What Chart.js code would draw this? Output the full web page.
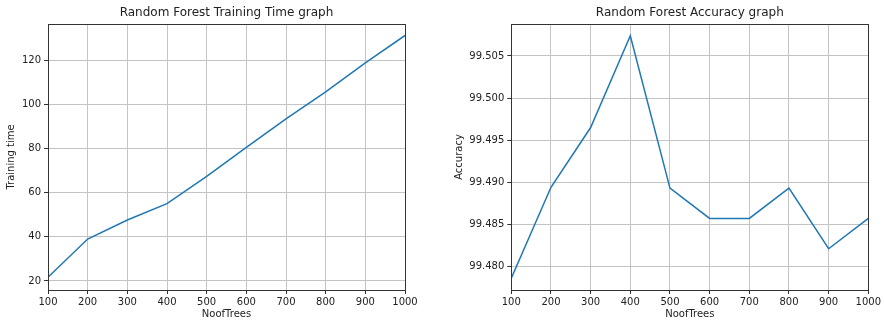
<!DOCTYPE html>
<html>
<head>
<meta charset="utf-8">
<script src="https://cdn.jsdelivr.net/npm/chart.js@4/dist/chart.umd.min.js"></script>
<style>
  body { margin: 0; background: #fff; }
  .box { position: absolute; top: 0; }
  canvas { display: block; }
</style>
</head>
<body>
<div class="box" style="left:0"><canvas id="timeChart" width="442" height="324"></canvas></div>
<div class="box" style="left:442px"><canvas id="accChart" width="442" height="324"></canvas></div>
<script>
// number of trees used on both charts
const noofTrees = [100, 200, 300, 400, 500, 600, 700, 800, 900, 1000];
// training time
const trainingTime = [21.7, 39.0, 47.6, 55.0, 67.4, 80.5, 93.4, 105.7, 118.8, 131.2];
// accuracy
const accuracy = [99.4786, 99.4894, 99.4965, 99.5074, 99.4893, 99.4857, 99.4857, 99.4893, 99.4821, 99.4857];

const fontFam = '"DejaVu Sans", sans-serif';
const textCol = '#222';
const lineCol = '#1f77b4';

// draw the full box round the plot like matplotlib spines
const frameBox = {
    id: 'frameBox',
    afterDraw(chart) {
        const a = chart.chartArea;
        const ctx = chart.ctx;
        ctx.save();
        ctx.strokeStyle = '#333';
        ctx.lineWidth = 1;
        ctx.strokeRect(Math.round(a.left) + 0.5, Math.round(a.top) + 0.5,
            Math.round(a.right - a.left), Math.round(a.bottom - a.top));
        ctx.restore();
    }
};

function makeChart(canvasId, title, yLabel, values, yMin, yMax, yStep, yFmt, yWidth, yTitlePad, padRight) {
    const points = noofTrees.map((n, i) => ({x: n, y: values[i]}));
    return new Chart(document.getElementById(canvasId), {
        type: 'line',
        data: {
            datasets: [{
                data: points,
                borderColor: lineCol,
                borderWidth: 1.5,
                pointRadius: 0,
                tension: 0,
                fill: false
            }]
        },
        options: {
            responsive: false,
            devicePixelRatio: 1,
            animation: false,
            layout: { padding: { left: 0, right: padRight, top: 0, bottom: 0 } },
            plugins: {
                legend: { display: false },
                tooltip: { enabled: false },
                title: {
                    display: true,
                    text: title,
                    fullSize: false,
                    color: textCol,
                    font: { family: fontFam, size: 12, weight: 'normal' },
                    padding: { top: 6, bottom: 3.6 }
                }
            },
            scales: {
                x: {
                    type: 'linear',
                    min: 100,
                    max: 1000,
                    afterFit(scale) { scale.height = 34; },
                    ticks: {
                        stepSize: 100,
                        maxRotation: 0,
                        autoSkip: false,
                        padding: 2,
                        color: textCol,
                        font: { family: fontFam, size: 10 },
                        callback: v => String(v)
                    },
                    grid: { color: '#c4c4c4', lineWidth: 1, tickColor: '#333', tickLength: 4 },
                    border: { display: true, color: '#333' },
                    title: {
                        display: true,
                        text: 'NoofTrees',
                        color: textCol,
                        font: { family: fontFam, size: 10 },
                        padding: { top: 0, bottom: 3.3 }
                    }
                },
                y: {
                    type: 'linear',
                    min: yMin,
                    max: yMax,
                    afterFit(scale) { scale.width = yWidth; },
                    ticks: {
                        stepSize: yStep,
                        includeBounds: false,
                        padding: 3,
                        color: textCol,
                        font: { family: fontFam, size: 10 },
                        callback: yFmt
                    },
                    grid: { color: '#c4c4c4', lineWidth: 1, tickColor: '#333', tickLength: 4 },
                    border: { display: true, color: '#333' },
                    title: {
                        display: true,
                        text: yLabel,
                        color: textCol,
                        font: { family: fontFam, size: 10 },
                        padding: { top: yTitlePad, bottom: 0 }
                    }
                }
            }
        },
        plugins: [frameBox]
    });
}

makeChart('timeChart', 'Random Forest Training Time graph', 'Training time',
    trainingTime, 15.9, 136.4, 20, v => String(Math.round(v)), 48, 5, 37);

makeChart('accChart', 'Random Forest Accuracy graph', 'Accuracy',
    accuracy, 99.4772, 99.5088, 0.005, v => Number(v).toFixed(3), 69.3, 11, 15.7);
</script>
</body>
</html>
